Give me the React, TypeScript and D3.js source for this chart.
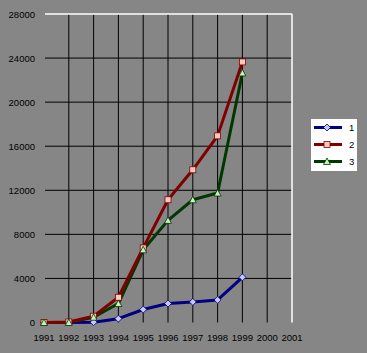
import React from "react";
import * as d3 from "d3";

const years = [1991, 1992, 1993, 1994, 1995, 1996, 1997, 1998, 1999, 2000, 2001];
const dataYears = [1991, 1992, 1993, 1994, 1995, 1996, 1997, 1998, 1999];
const series1 = [0, 0, 30, 350, 1180, 1720, 1870, 2050, 4100];
const series2 = [0, 50, 570, 2290, 6770, 11140, 13860, 16940, 23650];
const series3 = [0, 0, 480, 1720, 6600, 9270, 11140, 11750, 22650];
const yTicks = [0, 4000, 8000, 12000, 16000, 20000, 24000, 28000];
const seriesNames = ["1", "2", "3"];

const seriesList = [
  { name: seriesNames[0], values: series1, color: "#000080", fill: "#c8c8ff", shape: "diamond" },
  { name: seriesNames[1], values: series2, color: "#800000", fill: "#ffc8c0", shape: "square" },
  { name: seriesNames[2], values: series3, color: "#003800", fill: "#c8f0c0", shape: "triangle" },
];

function marker(shape: string, cx: number, cy: number, color: string, fill: string, key: string) {
  if (shape === "diamond") {
    const r = 3.5;
    return <path key={key} d={`M${cx},${cy - r}L${cx + r},${cy}L${cx},${cy + r}L${cx - r},${cy}Z`} fill={fill} stroke={color} strokeWidth={0.8} />;
  }
  if (shape === "square") {
    return <rect key={key} x={cx - 3} y={cy - 3} width={6} height={6} fill={fill} stroke={color} strokeWidth={0.8} />;
  }
  return <path key={key} d={`M${cx},${cy - 3.5}L${cx + 3.5},${cy + 3}L${cx - 3.5},${cy + 3}Z`} fill={fill} stroke={color} strokeWidth={0.8} />;
}

export default function App() {
  const left = 44, right = 292, top = 14, bottom = 322.5;
  const x = d3.scaleLinear().domain([1991, 2001]).range([left, right]);
  const y = d3.scaleLinear().domain([0, 28000]).range([bottom, top]);
  const line = d3.line<number>().x((_, i) => x(dataYears[i])).y((d) => y(d));
  const font = "'Liberation Sans', Arial, sans-serif";

  return (
    <svg width={367} height={353} style={{ position: "fixed", left: 0, top: 0 }}>
      <rect width={367} height={353} fill="#868686" />
      {/* horizontal grid */}
      {yTicks.slice(1, -1).map((t) => (
        <line key={"h" + t} x1={left + 1} x2={right} y1={y(t)} y2={y(t)} stroke="#000" strokeWidth={1} />
      ))}
      {/* vertical grid */}
      {years.slice(1, -1).map((yr) => (
        <line key={"v" + yr} x1={x(yr)} x2={x(yr)} y1={top} y2={bottom} stroke="#000" strokeWidth={1} />
      ))}
      <line x1={left + 1} x2={right} y1={top} y2={top} stroke="#fff" strokeWidth={1.5} />
      <line x1={right} x2={right} y1={top} y2={bottom} stroke="#fff" strokeWidth={1.5} />
      {yTicks.map((t) => (
        <text key={"yl" + t} x={35} y={y(t) + 3.5} textAnchor="end" fontFamily={font} fontSize={9.5} fill="#000">
          {t}
        </text>
      ))}
      {years.map((yr) => (
        <text key={"xl" + yr} x={x(yr)} y={341} textAnchor="middle" fontFamily={font} fontSize={9.5} fill="#000">
          {yr}
        </text>
      ))}
      {[seriesList[0], seriesList[2], seriesList[1]].map((s) => (
        <g key={"s" + s.name}>
          <path d={line(s.values) || ""} fill="none" stroke={s.color} strokeWidth={3} strokeLinejoin="round" />
        </g>
      ))}
      {seriesList.map((s) => (
        <g key={"m" + s.name}>
          {s.values.map((v, i) => marker(s.shape, x(dataYears[i]), y(v), s.color, s.fill, s.name + i))}
        </g>
      ))}
      {/* legend */}
      <rect x={311} y={119} width={46} height={52} fill="#fff" />
      {seriesList.map((s, i) => {
        const ly = 127.5 + i * 17;
        return (
          <g key={"lg" + s.name}>
            <line x1={314} x2={342} y1={ly} y2={ly} stroke={s.color} strokeWidth={3} />
            {marker(s.shape, 327, ly, s.color, s.fill, "lm" + i)}
            <text x={349} y={ly + 3.5} fontFamily={font} fontSize={9.5} fill="#000">
              {s.name}
            </text>
          </g>
        );
      })}
    </svg>
  );
}
